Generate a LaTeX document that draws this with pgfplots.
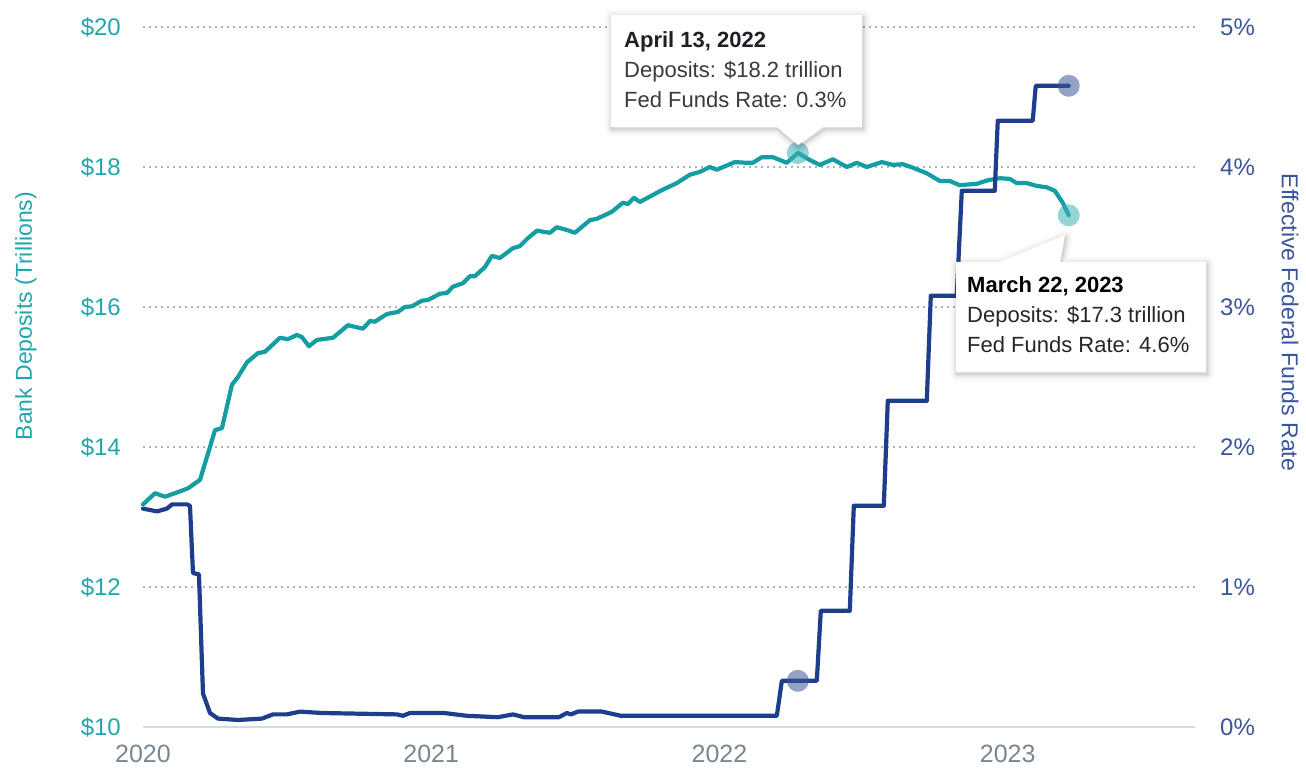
\documentclass[border=0pt]{standalone}
\usepackage{fontspec}
\setmainfont{Liberation Sans}
\usepackage{pgfplots}
\pgfplotsset{compat=1.18}
\definecolor{tealL}{RGB}{20,158,163}
\definecolor{tealT}{RGB}{33,166,170}
\definecolor{tealM}{RGB}{60,175,180}
\definecolor{navyL}{RGB}{30,61,140}
\definecolor{navyT}{RGB}{58,85,155}
\definecolor{navyM}{RGB}{60,85,150}
\definecolor{gridc}{RGB}{170,180,180}
\definecolor{basec}{RGB}{212,219,226}
\definecolor{xlab}{RGB}{120,134,148}
\definecolor{dark}{RGB}{30,32,38}
\definecolor{txt}{RGB}{55,58,62}
\newcommand{\calloutA}{(468bp,712bp) -- (719bp,712bp) -- (719bp,600bp) -- (680bp,600bp) -- (655bp,582bp) -- (634bp,600bp) -- (468bp,600bp) -- cycle}
\newcommand{\calloutB}{(813bp,465bp) -- (857bp,465bp) -- (922bp,492bp) -- (917bp,465bp) -- (1063bp,465bp) -- (1063bp,355bp) -- (813bp,355bp) -- cycle}
\begin{document}
\begin{tikzpicture}
\path[use as bounding box] (-143bp,-43bp) rectangle (1163bp,727bp);
\begin{axis}[
  at={(0,0)}, anchor=south west,
  width=1052bp, height=700bp, scale only axis,
  xmin=2020, xmax=2023.65, ymin=10, ymax=20,
  clip=false,
  axis line style={draw=none},
  major tick length=0pt,
  xtick={2020,2021,2022,2023}, xticklabels={2020,2021,2022,2023},
  ytick={10,12,14,16,18,20}, yticklabels={\$10,\$12,\$14,\$16,\$18,\$20},
  ymajorgrids,
  grid style={gridc, line width=1.6bp, dash pattern=on 1.6bp off 4.4bp},
  xticklabel style={font=\fontsize{25bp}{28bp}\selectfont, text=xlab, anchor=north, inner sep=0pt, yshift=-18bp},
  yticklabel style={font=\fontsize{24bp}{28bp}\selectfont, text=tealT, anchor=east, inner sep=0pt, xshift=-22bp},
  ylabel={Bank Deposits (Trillions)},
  every axis y label/.style={at={(axis description cs:-0.1112,0.587)}, anchor=center, rotate=90, font=\fontsize{23bp}{26bp}\selectfont, text=tealT},
]
\draw[basec, line width=2.5bp] (rel axis cs:0,0) -- (rel axis cs:1,0);
\addplot[tealL, line width=4.2bp, line join=round, line cap=round] coordinates {
(2020.0000,13.18) (2020.0416,13.34) (2020.0763,13.29) (2020.1110,13.34) (2020.1561,13.41)
(2020.1977,13.53) (2020.2324,14.00) (2020.2497,14.24) (2020.2740,14.27) (2020.3087,14.89)
(2020.3295,15.00) (2020.3607,15.21) (2020.3989,15.34) (2020.4232,15.36) (2020.4752,15.56)
(2020.5029,15.54) (2020.5342,15.60) (2020.5515,15.57) (2020.5758,15.44) (2020.6035,15.53)
(2020.6590,15.56) (2020.7111,15.74) (2020.7631,15.69) (2020.7874,15.80) (2020.8047,15.79)
(2020.8463,15.90) (2020.8845,15.93) (2020.9088,16.00) (2020.9331,16.01) (2020.9677,16.09)
(2020.9886,16.10) (2021.0302,16.19) (2021.0545,16.20) (2021.0753,16.29) (2021.1100,16.34)
(2021.1342,16.44) (2021.1516,16.44) (2021.1863,16.57) (2021.2105,16.73) (2021.2383,16.70)
(2021.2834,16.84) (2021.3077,16.87) (2021.3319,16.97) (2021.3666,17.09) (2021.4117,17.06)
(2021.4360,17.14) (2021.4707,17.10) (2021.4984,17.06) (2021.5505,17.24) (2021.5747,17.26)
(2021.6268,17.36) (2021.6649,17.49) (2021.6823,17.47) (2021.7031,17.56) (2021.7239,17.50)
(2021.7690,17.60) (2021.8002,17.67) (2021.8522,17.77) (2021.8973,17.89) (2021.9320,17.93)
(2021.9667,18.00) (2021.9910,17.96) (2022.0187,18.01) (2022.0534,18.07) (2022.0950,18.06)
(2022.1158,18.06) (2022.1471,18.14) (2022.1852,18.14) (2022.2338,18.06) (2022.2719,18.20)
(2022.3136,18.10) (2022.3482,18.03) (2022.3933,18.11) (2022.4419,18.00) (2022.4766,18.06)
(2022.5113,18.00) (2022.5633,18.07) (2022.6015,18.03) (2022.6361,18.04) (2022.6708,17.99)
(2022.7194,17.91) (2022.7645,17.80) (2022.7991,17.80) (2022.8338,17.74) (2022.8928,17.76)
(2022.9310,17.81) (2022.9726,17.84) (2023.0073,17.83) (2023.0316,17.77) (2023.0662,17.77)
(2023.1009,17.73) (2023.1356,17.71) (2023.1634,17.66) (2023.1911,17.49) (2023.2119,17.31)
};
\addplot[only marks, mark=*, mark size=11bp, color=tealM, draw opacity=0, fill opacity=0.55] coordinates {(2022.2719,18.20) (2023.2119,17.31)};
\end{axis}
\begin{axis}[
  at={(0,0)}, anchor=south west,
  width=1052bp, height=700bp, scale only axis,
  xmin=2020, xmax=2023.65, ymin=0, ymax=5,
  clip=false,
  hide x axis,
  axis y line*=right,
  axis line style={draw=none},
  major tick length=0pt,
  ytick={0,1,2,3,4,5}, yticklabels={0\%,1\%,2\%,3\%,4\%,5\%},
  yticklabel style={font=\fontsize{24bp}{28bp}\selectfont, text=navyT, anchor=west, inner sep=0pt, xshift=25bp},
  ylabel={Effective Federal Funds Rate},
  every axis y label/.style={at={(axis description cs:1.0903,0.578)}, anchor=center, rotate=-90, font=\fontsize{23bp}{26bp}\selectfont, text=navyT},
]
\addplot[navyL, line width=4.2bp, line join=round, line cap=round] coordinates {
(2020.0000,1.56) (2020.0486,1.54) (2020.0832,1.56) (2020.1006,1.59) (2020.1526,1.59)
(2020.1630,1.58) (2020.1734,1.10) (2020.1942,1.09) (2020.2081,0.24) (2020.2324,0.10)
(2020.2601,0.06) (2020.3295,0.05) (2020.4128,0.06) (2020.4509,0.09) (2020.4995,0.09)
(2020.5446,0.11) (2020.6209,0.10) (2020.8810,0.09) (2020.9018,0.08) (2020.9261,0.10)
(2021.0441,0.10) (2021.1238,0.08) (2021.2314,0.07) (2021.2834,0.09) (2021.3215,0.07)
(2021.4429,0.07) (2021.4707,0.10) (2021.4846,0.09) (2021.5088,0.11) (2021.5921,0.11)
(2021.6580,0.08) (2022.1991,0.08) (2022.2165,0.33) (2022.3378,0.33) (2022.3517,0.83)
(2022.4523,0.83) (2022.4662,1.58) (2022.5703,1.58) (2022.5841,2.33) (2022.7194,2.33)
(2022.7333,3.08) (2022.8234,3.08) (2022.8408,3.83) (2022.9552,3.83) (2022.9657,4.33)
(2023.0870,4.33) (2023.0974,4.58) (2023.2119,4.58)
};
\addplot[only marks, mark=*, mark size=11bp, color=navyM, draw opacity=0, fill opacity=0.55] coordinates {(2022.2719,0.33) (2023.2119,4.58)};
\end{axis}
% callouts
\foreach \w/\o in {14bp/0.025,9bp/0.035,5bp/0.05,2.5bp/0.07} {
  \draw[line width=\w, black, opacity=\o, line join=round, xshift=1bp, yshift=-2bp] \calloutA;
  \draw[line width=\w, black, opacity=\o, line join=round, xshift=1bp, yshift=-2bp] \calloutB;
}
\fill[white] \calloutA;
\fill[white] \calloutB;
\begin{scope}[every node/.style={anchor=base west, inner sep=0pt, font=\fontsize{22bp}{26bp}\selectfont, text=txt}]
\node[font=\fontsize{22bp}{26bp}\selectfont\bfseries, text=dark] at (481bp,679bp) {April 13, 2022};
\node at (481bp,649bp) {Deposits: \$18.2 trillion};
\node at (481bp,619bp) {Fed Funds Rate: 0.3\%};
\node[font=\fontsize{22bp}{26bp}\selectfont\bfseries, text=black] at (824bp,434bp) {March 22, 2023};
\node[text=black!85] at (824bp,404bp) {Deposits: \$17.3 trillion};
\node[text=black!85] at (824bp,374bp) {Fed Funds Rate: 4.6\%};
\end{scope}
\end{tikzpicture}
\end{document}
